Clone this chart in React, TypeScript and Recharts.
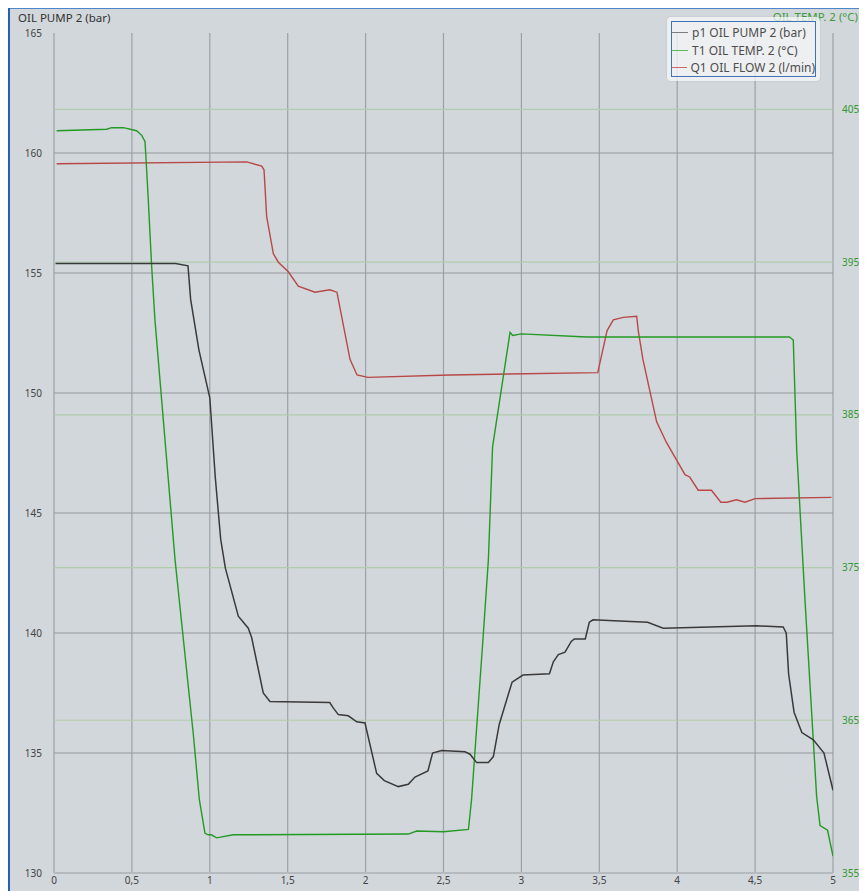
import React from 'react';
import { LineChart, Line, XAxis, YAxis, CartesianGrid, ReferenceLine, Legend } from 'recharts';

// p1 OIL PUMP 2 (bar) — time in s, pressure in bar
const pumpTime = [0.01, 0.78, 0.86, 0.877, 0.93, 1.0, 1.035, 1.07, 1.1, 1.183, 1.247, 1.269, 1.343, 1.386, 1.77, 1.79, 1.825, 1.889, 1.943, 1.996, 2.071, 2.12, 2.21, 2.274, 2.317, 2.4, 2.43, 2.488, 2.638, 2.67, 2.713, 2.788, 2.82, 2.858, 2.94, 3.01, 3.18, 3.205, 3.237, 3.28, 3.32, 3.34, 3.41, 3.436, 3.46, 3.63, 3.81, 3.91, 4.51, 4.68, 4.7, 4.715, 4.75, 4.8, 4.874, 4.942, 5.0];
const pumpBar = [155.4, 155.4, 155.3, 153.9, 151.8, 149.8, 146.5, 143.9, 142.7, 140.7, 140.2, 139.8, 137.5, 137.15, 137.1, 136.9, 136.6, 136.55, 136.3, 136.25, 134.15, 133.85, 133.6, 133.7, 134.0, 134.25, 135.0, 135.1, 135.05, 134.95, 134.6, 134.6, 134.85, 136.2, 137.95, 138.25, 138.3, 138.8, 139.1, 139.2, 139.65, 139.75, 139.75, 140.45, 140.55, 140.5, 140.45, 140.2, 140.3, 140.25, 140.0, 138.3, 136.7, 135.85, 135.55, 135.0, 133.45];

// T1 OIL TEMP. 2 (°C)
const tempTime = [0.017, 0.338, 0.37, 0.445, 0.53, 0.563, 0.584, 0.59, 0.605, 0.627, 0.648, 0.777, 0.894, 0.933, 0.969, 0.99, 1.01, 1.044, 1.15, 2.274, 2.328, 2.5, 2.66, 2.68, 2.756, 2.788, 2.815, 2.927, 2.944, 3.0, 3.42, 4.72, 4.745, 4.767, 4.82, 4.895, 4.917, 4.965, 5.0];
const tempDeg = [403.6, 403.7, 403.8, 403.8, 403.6, 403.3, 402.9, 401.9, 399.1, 394.7, 391.2, 375.5, 364.1, 359.8, 357.6, 357.5, 357.5, 357.3, 357.5, 357.55, 357.75, 357.7, 357.85, 359.8, 370.7, 375.5, 382.9, 390.4, 390.2, 390.3, 390.1, 390.1, 389.9, 382.7, 372.9, 360.0, 358.1, 357.8, 356.1];

// Q1 OIL FLOW 2 (l/min), drawn against the left scale
const flowTime = [0.017, 1.237, 1.333, 1.348, 1.365, 1.408, 1.44, 1.504, 1.568, 1.675, 1.77, 1.816, 1.9, 1.945, 2.015, 2.54, 3.49, 3.55, 3.59, 3.654, 3.74, 3.75, 3.78, 3.868, 3.93, 4.05, 4.08, 4.135, 4.22, 4.28, 4.32, 4.38, 4.435, 4.5, 4.99];
const flowVal = [159.55, 159.63, 159.45, 159.3, 157.35, 155.8, 155.45, 155.05, 154.45, 154.2, 154.3, 154.2, 151.4, 150.75, 150.65, 150.75, 150.85, 152.6, 153.05, 153.15, 153.2, 152.6, 151.4, 148.8, 147.95, 146.6, 146.5, 145.95, 145.95, 145.45, 145.45, 145.55, 145.45, 145.6, 145.65];

const timeTicks = [0, 0.5, 1, 1.5, 2, 2.5, 3, 3.5, 4, 4.5, 5];
const pumpTicks = [130, 135, 140, 145, 150, 155, 160, 165];
const tempTicks = [355, 365, 375, 385, 395, 405];

const zip = (xs: number[], ys: number[]) => xs.map((t, i) => ({ t, v: ys[i] }));

const pumpData = zip(pumpTime, pumpBar);
const tempData = zip(tempTime, tempDeg);
const flowData = zip(flowTime, flowVal);

const legendItems = [
  { name: 'p1 OIL PUMP 2 (bar)', color: '#7d7d7d' },
  { name: 'T1 OIL TEMP. 2 (°C)', color: '#5dba5d' },
  { name: 'Q1 OIL FLOW 2 (l/min)', color: '#d06b6b' },
];

const FONT = '"Noto Sans", "Open Sans", sans-serif';

const LegendBox = () => (
  <div
    style={{
      background: 'rgba(246,247,248,0.75)',
      borderRadius: 4,
      padding: 4,
      boxShadow: '0 0 2px rgba(0,0,0,0.12)',
    }}
  >
    <div
      style={{
        width: 145,
        boxSizing: 'border-box',
        border: '1px solid #3f72b8',
        padding: '2px 0 0 0',
        height: 56,
      }}
    >
      {legendItems.map((item) => (
        <div
          key={item.name}
          style={{
            display: 'flex',
            alignItems: 'center',
            height: 17.5,
            fontSize: 12,
            color: '#4d4d4d',
            whiteSpace: 'nowrap',
            fontFamily: FONT,
          }}
        >
          <span style={{ display: 'inline-block', width: 16, borderTop: `1.5px solid ${item.color}`, marginRight: 4 }} />
          {item.name}
        </div>
      ))}
    </div>
  </div>
);

export default function App() {
  return (
    <div
      style={{
        position: 'relative',
        width: 859,
        height: 883,
        background: '#d2d7db',
        boxShadow: 'inset 2px 0 0 #2462b0, inset 0 1px 0 #4f86c9',
        fontFamily: FONT,
      }}
    >
      <div style={{ position: 'absolute', left: 10, top: 4, fontSize: 11.5, lineHeight: '12px', color: '#333' }}>
        OIL PUMP 2 (bar)
      </div>
      <div style={{ position: 'absolute', right: 9, top: 3, fontSize: 11.5, lineHeight: '12px', color: '#3c9c3c' }}>
        OIL TEMP. 2 (°C)
      </div>
      <LineChart width={859} height={883} margin={{ top: 25, right: 0, bottom: 0, left: 0 }}>
        <CartesianGrid horizontal={false} stroke="#9ca1a6" strokeWidth={1.2} />
        <XAxis
          type="number"
          dataKey="t"
          domain={[0, 5]}
          ticks={timeTicks}
          height={18}
          tickSize={0}
          tickMargin={4}
          tickLine={false}
          axisLine={{ stroke: '#b5babe', strokeWidth: 2 }}
          tickFormatter={(v) => String(v).replace('.', ',')}
          tick={{ fontSize: 10, fill: '#444', fontFamily: FONT }}
          allowDataOverflow
        />
        <YAxis
          yAxisId="bar"
          type="number"
          domain={[130, 165]}
          ticks={pumpTicks}
          width={46}
          tickSize={0}
          tickMargin={12}
          tickLine={false}
          axisLine={false}
          tick={{ fontSize: 10, fill: '#444', fontFamily: FONT }}
        />
        <YAxis
          yAxisId="temp"
          orientation="right"
          type="number"
          domain={[355, 410]}
          ticks={tempTicks}
          width={34}
          tickSize={0}
          tickMargin={9}
          tickLine={false}
          axisLine={false}
          tick={{ fontSize: 10, fill: '#2f9a2f', fontFamily: FONT }}
        />
        {pumpTicks.slice(1, -1).map((v) => (
          <ReferenceLine key={`b${v}`} yAxisId="bar" y={v} stroke="#959a9f" strokeWidth={1.2} />
        ))}
        {tempTicks.slice(1).map((v) => (
          <ReferenceLine key={`t${v}`} yAxisId="temp" y={v} stroke="#b0ccab" strokeWidth={1.2} />
        ))}
        <Line
          yAxisId="bar"
          data={flowData}
          dataKey="v"
          type="linear"
          stroke="#b84848"
          strokeWidth={1.4}
          dot={false}
          isAnimationActive={false}
        />
        <Line
          yAxisId="temp"
          data={tempData}
          dataKey="v"
          type="linear"
          stroke="#239a23"
          strokeWidth={1.4}
          dot={false}
          isAnimationActive={false}
        />
        <Line
          yAxisId="bar"
          data={pumpData}
          dataKey="v"
          type="linear"
          stroke="#3a3a3a"
          strokeWidth={1.5}
          dot={false}
          isAnimationActive={false}
        />
        <Legend
          layout="vertical"
          align="center"
          verticalAlign="middle"
          content={<LegendBox />}
          wrapperStyle={{ top: 9, left: 659, width: 'auto' }}
        />
      </LineChart>
    </div>
  );
}
